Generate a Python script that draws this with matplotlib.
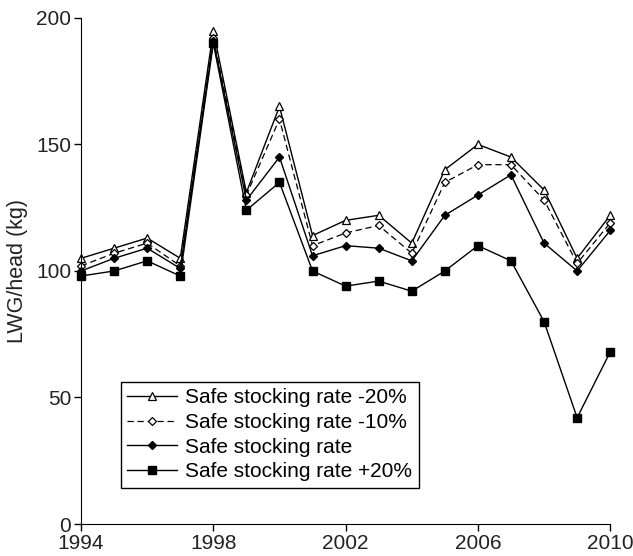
import matplotlib
matplotlib.use("Agg")
import matplotlib.pyplot as plt

plt.rcParams['font.family'] = ['Liberation Sans', 'DejaVu Sans']

years = list(range(1994, 2011))
minus20 = [105, 109, 113, 105, 195, 131, 165, 114, 120, 122, 111, 140, 150, 145, 132, 105, 122]
minus10 = [102, 107, 111, 102, 192, 130, 160, 110, 115, 118, 107, 135, 142, 142, 128, 103, 119]
base    = [100, 105, 109, 101, 191, 128, 145, 106, 110, 109, 104, 122, 130, 138, 111, 100, 116]
plus20  = [98, 100, 104, 98, 190, 124, 135, 100, 94, 96, 92, 100, 110, 104, 80, 42, 68]

labels = ["Safe stocking rate -20%", "Safe stocking rate -10%",
          "Safe stocking rate", "Safe stocking rate +20%"]
xticks = [1994, 1998, 2002, 2006, 2010]
yticks = [0, 50, 100, 150, 200]

fig = plt.figure(figsize=(6.33, 5.56), dpi=100)
ax = fig.add_axes([0.128, 0.0575, 0.836, 0.9103])

ax.plot(years, minus20, color='black', lw=1.0, marker='^', ms=5.5,
        mfc='white', mec='black', mew=0.9, label=labels[0])
ax.plot(years, minus10, color='black', lw=0.9, ls=(0, (5, 3)), marker='D', ms=3.6,
        mfc='white', mec='black', mew=0.9, label=labels[1])
ax.plot(years, base, color='black', lw=1.0, marker='D', ms=3.8,
        mfc='black', mec='black', label=labels[2])
ax.plot(years, plus20, color='black', lw=1.0, marker='s', ms=5.2,
        mfc='black', mec='black', label=labels[3])

ax.set_xlim(1994, 2010)
ax.set_ylim(0, 200)
ax.set_xticks(xticks)
ax.set_yticks(yticks)
ax.spines['top'].set_visible(False)
ax.spines['right'].set_visible(False)
ax.tick_params(axis='both', labelsize=15, length=5, width=1, colors='black',
               labelcolor='#222222', pad=2)
ax.set_ylabel("LWG/head (kg)", fontsize=15.5, color='#222222')
ax.yaxis.set_label_coords(-0.1, 0.5)
for sp in ax.spines.values():
    sp.set_clip_on(False)
for ln in ax.lines:
    ln.set_clip_on(False)

leg = ax.legend(loc='lower left', bbox_to_anchor=(0.075, 0.072), fontsize=15,
                frameon=True, fancybox=False, edgecolor='black', framealpha=1,
                handlelength=2.4, labelspacing=0.27, borderpad=0.3, handletextpad=0.4,
                borderaxespad=0)
leg.get_frame().set_linewidth(1.0)

fig.savefig("out.png", dpi=100)
